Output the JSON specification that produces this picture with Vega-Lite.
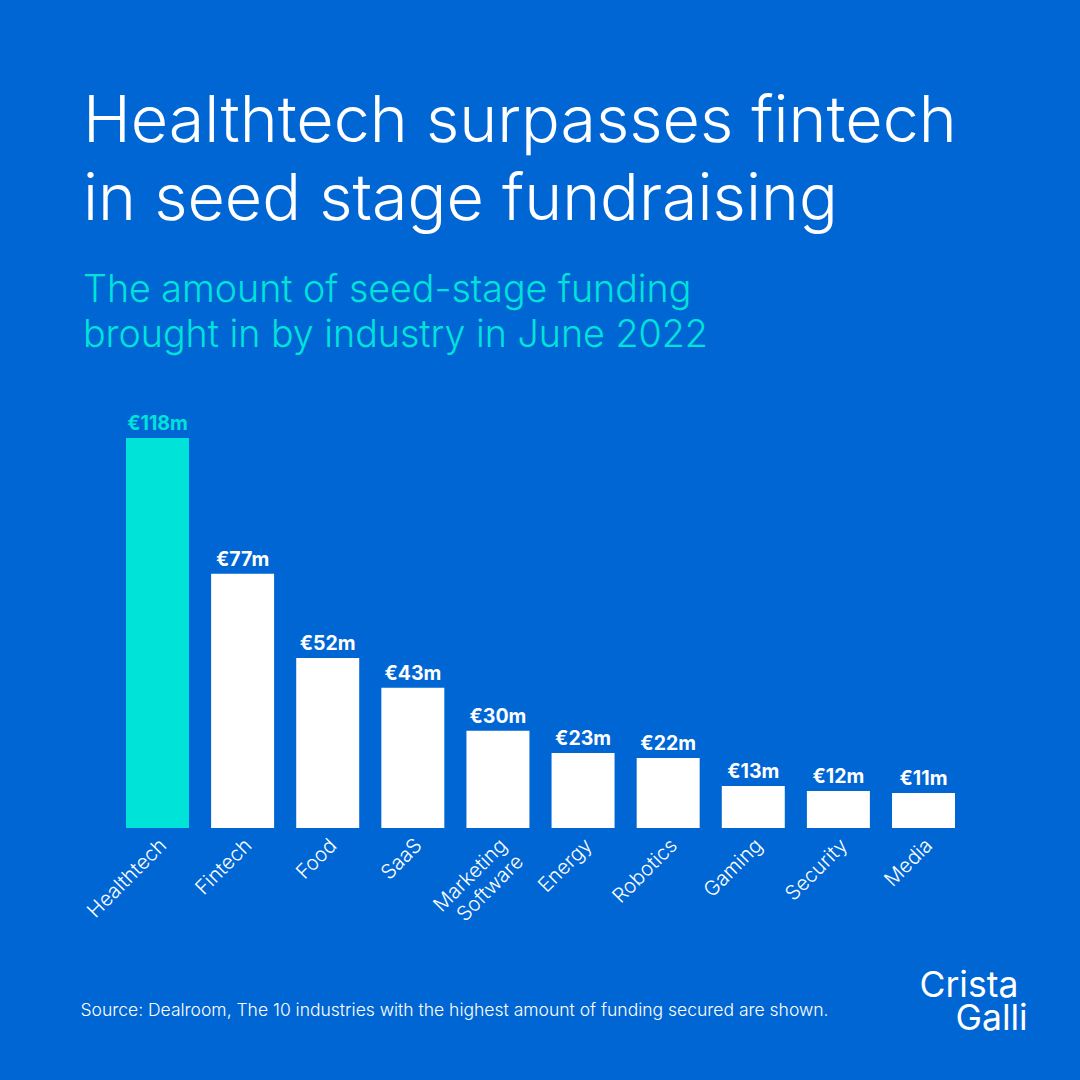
{
  "$schema": "https://vega.github.io/schema/vega-lite/v6.json",
  "description": "Seed-stage funding by industry in June 2022, sorted from highest to lowest.",
  "autosize": {"type": "none"},
  "padding": {"left": 126, "top": 438, "right": 125, "bottom": 252},
  "width": 829,
  "height": 390,
  "background": "#0066D4",
  "config": {"view": {"stroke": null}, "font": "Inter"},
  "title": {
    "text": ["Healthtech surpasses fintech", "in seed stage fundraising"],
    "subtitle": ["The amount of seed-stage funding", "brought in by industry in June 2022"],
    "anchor": "start",
    "frame": "group",
    "dx": -43,
    "offset": 58,
    "color": "white",
    "font": "Inter",
    "fontSize": 64.5,
    "fontWeight": 300,
    "lineHeight": 78,
    "subtitleColor": "#00E3D9",
    "subtitleFont": "Inter",
    "subtitleFontSize": 37.6,
    "subtitleFontWeight": 300,
    "subtitleLineHeight": 45,
    "subtitlePadding": 39
  },
  "data": {
    "values": [
      {"Industry": "Healthtech", "Funding": 118, "Label": "€118m", "Group": "Top"},
      {"Industry": "Fintech", "Funding": 76.9, "Label": "€77m", "Group": "Other"},
      {"Industry": "Food", "Funding": 51.4, "Label": "€52m", "Group": "Other"},
      {"Industry": "SaaS", "Funding": 42.4, "Label": "€43m", "Group": "Other"},
      {"Industry": "Marketing Software", "Funding": 29.4, "Label": "€30m", "Group": "Other"},
      {"Industry": "Energy", "Funding": 22.7, "Label": "€23m", "Group": "Other"},
      {"Industry": "Robotics", "Funding": 21.2, "Label": "€22m", "Group": "Other"},
      {"Industry": "Gaming", "Funding": 12.7, "Label": "€13m", "Group": "Other"},
      {"Industry": "Security", "Funding": 11.2, "Label": "€12m", "Group": "Other"},
      {"Industry": "Media", "Funding": 10.6, "Label": "€11m", "Group": "Other"}
    ]
  },
  "encoding": {
    "x": {
      "field": "Industry",
      "type": "nominal",
      "sort": null,
      "scale": {"paddingInner": 0.26, "paddingOuter": 0},
      "title": "Source: Dealroom, The 10 industries with the highest amount of funding secured are shown.",
      "axis": {
        "domain": false,
        "ticks": false,
        "labelAngle": -45,
        "labelAlign": "right",
        "labelBaseline": "middle",
        "labelColor": "white",
        "labelFont": "Inter",
        "labelFontSize": 20.3,
        "labelFontWeight": 300,
        "labelLineHeight": 23,
        "labelPadding": 14,
        "labelOffset": 6,
        "labelLimit": 200,
        "labelExpr": "datum.label == 'Marketing Software' ? ['Marketing', 'Software'] : datum.label",
        "titleColor": "white",
        "titleFont": "Inter",
        "titleFontSize": 17.5,
        "titleFontWeight": 300,
        "titleAnchor": "start",
        "titleAlign": "left",
        "titleBaseline": "alphabetic",
        "titleX": -46,
        "titleY": 187
      }
    },
    "y": {
      "field": "Funding",
      "type": "quantitative",
      "scale": {"domain": [0, 118]},
      "axis": null
    },
    "color": {
      "field": "Group",
      "type": "nominal",
      "scale": {"domain": ["Top", "Other"], "range": ["#00E3D9", "white"]},
      "legend": null
    }
  },
  "layer": [
    {"mark": {"type": "bar"}},
    {
      "mark": {"type": "text", "baseline": "alphabetic", "dy": -8, "font": "Inter", "fontSize": 19.5, "fontWeight": 700},
      "encoding": {"text": {"field": "Label"}}
    },
    {
      "transform": [{"filter": "datum.Industry == 'Media'"}],
      "mark": {"type": "text", "align": "left", "baseline": "alphabetic", "dx": -4, "font": "Inter", "fontSize": 35.5, "fontWeight": 400},
      "encoding": {
        "y": {"datum": -51},
        "color": {"value": "white"},
        "text": {"value": "Crista"}
      }
    },
    {
      "transform": [{"filter": "datum.Industry == 'Media'"}],
      "mark": {"type": "text", "align": "left", "baseline": "alphabetic", "dx": 32, "font": "Inter", "fontSize": 35.5, "fontWeight": 400},
      "encoding": {
        "y": {"datum": -61},
        "color": {"value": "white"},
        "text": {"value": "Galli"}
      }
    }
  ]
}
